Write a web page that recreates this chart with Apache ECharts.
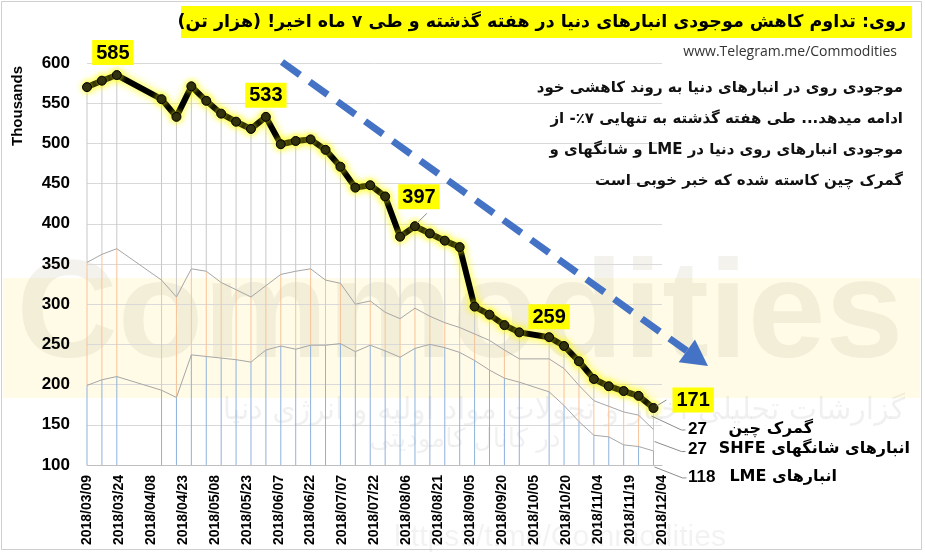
<!DOCTYPE html>
<html><head><meta charset="utf-8">
<script src="https://cdn.jsdelivr.net/npm/echarts@6/dist/echarts.min.js"></script>
<style>html,body{margin:0;padding:0;background:#fff}#c{width:925px;height:557px;direction:rtl}</style>
</head><body><div id="c" dir="rtl"></div>
<script>
// ---------------- data (thousand tonnes) ----------------
const dates = ['2018/03/09','2018/03/16','2018/03/23','2018/04/13','2018/04/20','2018/04/27','2018/05/04','2018/05/11','2018/05/18','2018/05/25','2018/06/01','2018/06/08','2018/06/15','2018/06/22','2018/06/29','2018/07/06','2018/07/13','2018/07/20','2018/07/27','2018/08/03','2018/08/10','2018/08/17','2018/08/24','2018/08/31','2018/09/07','2018/09/14','2018/09/21','2018/09/28','2018/10/12','2018/10/19','2018/10/26','2018/11/02','2018/11/09','2018/11/16','2018/11/23','2018/11/30'];
const lme   = [199,206,210,193,184,237,235,233,231,228,243,248,244,249,249,251,241,249,242,234,245,250,246,240,230,218,208,203,191,174,154,137,135,125,123,117.5];
const shfe  = [153,156,159,137,125,107,106,94,87,81,80,89,97,95,81,75,59,55,48,48,50,35,31,31,33,37,35,29,41,46,45,43,38,41,39,26.6];
const china = [218,216,216,225,224,227,212,210,209,209,210,162,162,161,162,145,145,144,144,102,102,103,102,100,34,32,31,33,27,28,30,27,25,26,24,26.8];
const labelledPoints = [2, 10, 20, 28, 35];
const axisStart = '2018/03/09';
const axisEnd = '2018/12/04';
const tickDays = 15;
const yMin = 100, yMax = 600, yStep = 50;

const titleText = 'روی: تداوم کاهش موجودی انبارهای دنیا در هفته گذشته و طی ۷ ماه اخیر! (هزار تن)';
const urlText = 'www.Telegram.me/Commodities';
const noteLines = [
  'موجودی روی در انبارهای دنیا به روند کاهشی خود',
  'ادامه میدهد... طی هفته گذشته به تنهایی ۷٪- از',
  'موجودی انبارهای روی دنیا در LME و شانگهای و',
  'گمرک چین کاسته شده که خبر خوبی است'
];
const seriesNames = ['انبارهای LME', 'انبارهای شانگهای SHFE', 'گمرک چین'];

// ---------------- helpers ----------------
const DAY = 86400000;
function utc(s){const p=s.split('/');return Date.UTC(+p[0],+p[1]-1,+p[2]);}
const t0 = utc(axisStart);
const dayOf = s => Math.round((utc(s)-t0)/DAY);
function fmt(d){const t=new Date(t0+d*DAY);return t.getUTCFullYear()+'/'+String(t.getUTCMonth()+1).padStart(2,'0')+'/'+String(t.getUTCDate()).padStart(2,'0');}
const xs = dates.map(dayOf);
// value first, day second (encode maps them to y and x) so the library stacks the values
const pair = arr => arr.map((v,i)=>[v,xs[i]]);
const ENC = {x:1, y:0};
const total = i => lme[i]+shfe[i]+china[i];

const labelCfg = {
  2:  {position:'top', distance:5, offset:[-4,0]},
  10: {position:'top', distance:4, offset:[0,0]},
  20: {position:'top', distance:12, offset:[4,0]},
  28: {position:'top', distance:3, offset:[0,0]},
  35: {position:'right', distance:14, offset:[0,-8]}
};
const chinaData = china.map((v,i)=>{
  if(labelledPoints.indexOf(i)<0) return [v,xs[i]];
  return {value:[v,xs[i]], label:Object.assign({show:true}, labelCfg[i])};
});

const AR = '"DejaVu Sans", sans-serif';
const LS = '"Liberation Sans", Arial, sans-serif';

const chart = echarts.init(document.getElementById('c'), null, {renderer:'canvas'});

const staticGraphics = [
  {id:'frame', type:'rect', z:0, shape:{x:1.5,y:1.5,width:920,height:548}, style:{fill:null, stroke:'#cfcfcf', lineWidth:1}},
  {id:'band', type:'rect', z:0, shape:{x:3,y:278,width:917,height:120}, style:{fill:'#fffbe6'}},
  {id:'wm1', type:'text', z:0, x:460, y:388, style:{text:'Commodities', font:'bold 140px '+LS, fill:'rgba(170,160,130,0.14)', align:'center', verticalAlign:'bottom'}},
  {id:'wm2', type:'text', z:0, x:905, y:411, style:{text:'گزارشات تحلیلی اخبار و تحولات مواد اولیه و انرژی دنیا', font:'30px '+AR, fill:'rgba(0,0,0,0.06)', align:'right', verticalAlign:'middle'}},
  {id:'wm3', type:'text', z:0, x:465, y:440, style:{text:'در کانال کامودیتی', font:'26px '+AR, fill:'rgba(0,0,0,0.06)', align:'center', verticalAlign:'middle'}},
  {id:'wm4', type:'text', z:0, x:560, y:538, style:{text:'https://t.me/Commodities', font:'30px '+LS, fill:'rgba(0,0,0,0.05)', align:'center', verticalAlign:'middle'}},
  {id:'titleBg', type:'rect', z:10, shape:{x:181,y:6,width:731,height:32}, style:{fill:'#ffff00'}},
  {id:'title', type:'text', z:11, x:906, y:22, style:{text:titleText, font:'bold 17.5px '+AR, fill:'#000', align:'right', verticalAlign:'middle'}},
  {id:'url', type:'text', z:11, x:897, y:52, style:{text:urlText, font:'14px "Open Sans", sans-serif', fill:'#333', align:'right', verticalAlign:'middle'}},
  {id:'yname', type:'text', z:11, x:18, y:106, rotation:Math.PI/2, style:{text:'Thousands', font:'bold 15px '+LS, fill:'#000', align:'center', verticalAlign:'middle'}}
].concat(noteLines.map((t,i)=>({id:'note'+i, type:'text', z:11, x:903, y:88+i*31, style:{text:t, font:'bold 15px '+AR, fill:'#111', align:'right', verticalAlign:'middle'}})));

// dashed trend arrow
(function(){
  const x1=282,y1=62,tx=708,ty=366;
  const L=Math.hypot(tx-x1,ty-y1), dx=(tx-x1)/L, dy=(ty-y1)/L;
  const bx=tx-26*dx, by=ty-26*dy, hw=14;
  staticGraphics.push({id:'arrLine', type:'line', z:5, shape:{x1:x1,y1:y1,x2:bx,y2:by}, style:{stroke:'#4472c4', lineWidth:7, lineDash:[22,12]}});
  staticGraphics.push({id:'arrHead', type:'polygon', z:5, shape:{points:[[tx,ty],[bx-hw*dy,by+hw*dx],[bx+hw*dy,by-hw*dx]]}, style:{fill:'#4472c4'}});
})();

chart.setOption({
  animation:false,
  backgroundColor:'#ffffff',
  grid:{left:87, top:63, width:575, height:402, containLabel:false},
  xAxis:{type:'value', min:0, max:dayOf(axisEnd), interval:tickDays,
    axisLine:{show:true, lineStyle:{color:'#bfbfbf'}}, axisTick:{show:false}, splitLine:{show:false},
    axisLabel:{rotate:90, margin:10, fontFamily:LS, fontWeight:'bold', fontSize:14, color:'#000', formatter:v=>fmt(v), showMaxLabel:true, showMinLabel:true}},
  yAxis:{type:'value', min:yMin, max:yMax, interval:yStep,
    axisLine:{show:false}, axisTick:{show:false},
    splitLine:{lineStyle:{color:'#d9d9d9'}},
    axisLabel:{margin:17, fontFamily:LS, fontWeight:'bold', fontSize:17, color:'#000'}},
  graphic:staticGraphics,
  series:[
    {name:seriesNames[0]+' ', type:'bar', stack:'drop', barWidth:1, silent:true, itemStyle:{color:'#8fb1dc'}, encode:ENC, data:pair(lme), z:1},
    {name:seriesNames[1]+' ', type:'bar', stack:'drop', barWidth:1, silent:true, itemStyle:{color:'#f6c39a'}, encode:ENC, data:pair(shfe), z:1},
    {name:seriesNames[2]+' ', type:'bar', stack:'drop', barWidth:1, silent:true, itemStyle:{color:'#c8c8c8'}, encode:ENC, data:pair(china), z:1},
    {name:seriesNames[0], type:'line', stack:'lines', symbol:'none', silent:true, lineStyle:{color:'#a6a6a6', width:1}, encode:ENC, data:pair(lme), z:3},
    {name:seriesNames[1], type:'line', stack:'lines', symbol:'none', silent:true, lineStyle:{color:'#a6a6a6', width:1}, encode:ENC, data:pair(shfe), z:3},
    {name:seriesNames[2], type:'line', stack:'lines', symbol:'circle', symbolSize:9, silent:true, z:6, encode:ENC,
      lineStyle:{color:'#000', width:6, shadowColor:'#ffff00', shadowBlur:8},
      itemStyle:{color:'#111', borderColor:'#000', borderWidth:1, shadowColor:'#ffff00', shadowBlur:6},
      label:{show:false, formatter:p=>Math.round(total(p.dataIndex)), backgroundColor:'#ffff00', color:'#000',
        fontFamily:LS, fontWeight:'bold', fontSize:20, padding:[3,4,2,4]},
      data:chinaData}
  ]
});

// end labels and leader lines, placed from the library's own scale
const g = [];
const last = xs.length-1;
const ends = [
  {v: total(last), val: china[last], name: seriesNames[2], ty: 429, nameRight: 813, d1:[-2,8], d2:[28,22]},
  {v: lme[last]+shfe[last], val: shfe[last], name: seriesNames[1], ty: 449, nameRight: 910, d1:[1,12], d2:[28,22]},
  {v: lme[last], val: lme[last], name: seriesNames[0], ty: 477, nameRight: 837, d1:[1,16], d2:[29,27]}
];
ends.forEach((e,k)=>{
  const p = chart.convertToPixel({gridIndex:0}, [xs[last], e.v]);
  g.push({id:'ll'+k, type:'polyline', z:4, shape:{points:[[p[0]+e.d1[0],p[1]+e.d1[1]],[p[0]+e.d2[0],p[1]+e.d2[1]],[p[0]+e.d2[0]+4,p[1]+e.d2[1]]]}, style:{stroke:'#8c8c8c', lineWidth:1, fill:null}});
  g.push({id:'lv'+k, type:'text', z:11, x:688, y:e.ty, style:{text:String(Math.round(e.val)), font:'bold 17px '+LS, fill:'#000', align:'left', verticalAlign:'middle'}});
  g.push({id:'ln'+k, type:'text', z:11, x:e.nameRight, y:e.ty, style:{text:e.name, font:'bold 16px '+AR, fill:'#000', align:'right', verticalAlign:'middle'}});
});
// short leader lines to the 397 and 171 boxes
[[20,[2,-3],[12,-13]],[35,[3,-2],[13,-8]]].forEach((c,k)=>{
  const i=c[0];
  const p = chart.convertToPixel({gridIndex:0}, [xs[i], total(i)]);
  g.push({id:'lp'+k, type:'line', z:7, shape:{x1:p[0]+c[1][0],y1:p[1]+c[1][1],x2:p[0]+c[2][0],y2:p[1]+c[2][1]}, style:{stroke:'#8c8c8c', lineWidth:1}});
});
chart.setOption({graphic:g});
</script>
</body></html>
